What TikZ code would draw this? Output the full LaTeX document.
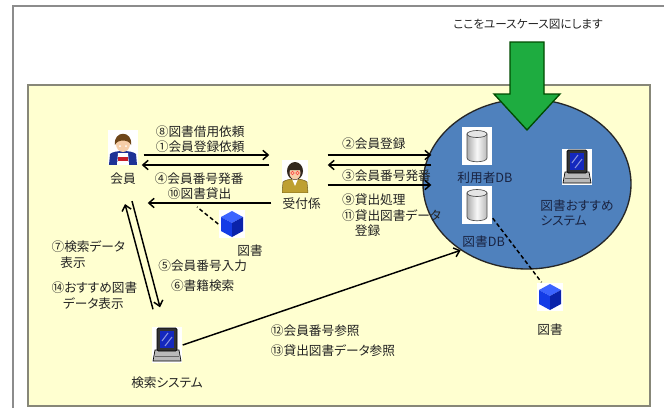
\documentclass[tikz,border=0pt]{standalone}
\usepackage{fontspec}
\setmainfont{Noto Sans CJK JP}[RawFeature=+palt]
\usepackage{tikz}
\usetikzlibrary{arrows.meta, shapes.geometric, positioning}

\definecolor{panel}{RGB}{255,255,208}
\definecolor{panelline}{RGB}{135,135,120}
\definecolor{framegray}{RGB}{140,140,140}
\definecolor{sysblue}{RGB}{79,129,189}
\definecolor{arrowgreen}{RGB}{30,172,64}
\definecolor{txt}{RGB}{35,35,35}
\definecolor{systxt}{RGB}{25,35,65}
\definecolor{skin}{RGB}{246,206,168}
\definecolor{hair}{RGB}{110,70,25}
\definecolor{hairdark}{RGB}{50,40,30}
\definecolor{shirt}{RGB}{30,50,150}
\definecolor{tie}{RGB}{200,30,40}
\definecolor{jacket}{RGB}{190,160,50}
\definecolor{cubetop}{RGB}{60,100,255}
\definecolor{cubeleft}{RGB}{20,60,230}
\definecolor{cuberight}{RGB}{10,35,170}
\definecolor{screen}{RGB}{20,40,190}

\begin{document}
\begin{tikzpicture}[
            x = 0.75pt, y = -0.75pt, % one unit per pixel, y grows downwards
            > = {Straight Barb[length=4pt, width=7pt]}, % open arrow head
            line width = 1.1pt, % line style
            font = \fontsize{9.5}{11.25}\selectfont,
            text = txt
        ]

        \tikzstyle{lbl}=[inner sep = 1pt]
        \tikzstyle{link}=[dash pattern = on 3pt off 2pt]
        \tikzstyle{icon}=[inner sep = 0pt, fill = white]

        \tikzstyle{boy}=[icon, minimum width = 22.5pt, minimum height = 26pt, path picture = {
            \begin{scope}[shift = {(path picture bounding box.center)}]
                \fill[shirt] (-14,18) -- (-13,7) .. controls (-9,3) and (9,3) .. (13,7) -- (14,18) -- cycle;
                \fill[white] (-6,18) -- (-5,6) -- (5,6) -- (6,18) -- cycle;
                \fill[tie] (-5,10) rectangle (5,14);
                \fill[skin] (0,-3) ellipse (7 and 8);
                \fill[hair] (-8,-2) .. controls (-10,-17) and (10,-17) .. (8,-2) .. controls (6,-8) and (-6,-8) .. (-8,-2) -- cycle;
                \fill (-3,-1) circle (1) (3,-1) circle (1);
            \end{scope}}]

        \tikzstyle{clerk}=[icon, minimum width = 19.5pt, minimum height = 24pt, path picture = {
            \begin{scope}[shift = {(path picture bounding box.center)}, line width = 0.4pt]
                \filldraw[fill = jacket, draw = jacket!60!black] (-13,17) -- (-12,6) .. controls (-8,2) and (8,2) .. (12,6) -- (13,17) -- cycle;
                \fill[white] (-3,3) -- (3,3) -- (0,10) -- cycle;
                \fill[hairdark] (0,-5) ellipse (8 and 9);
                \fill[skin] (0,-3) ellipse (5.5 and 6.5);
                \fill[hairdark] (-6,-6) .. controls (-4,-12) and (4,-12) .. (6,-6) -- cycle;
                \draw[red!75] (-2.5,-3) circle (1.8) (2.5,-3) circle (1.8);
            \end{scope}}]

        \tikzstyle{cube}=[icon, minimum width = 19.5pt, minimum height = 21pt, path picture = {
            \begin{scope}[shift = {(path picture bounding box.center)}]
                \fill[cubetop] (0,-13) -- (11,-7) -- (0,-1) -- (-11,-7) -- cycle;
                \fill[cubeleft] (-11,-7) -- (0,-1) -- (0,13) -- (-11,7) -- cycle;
                \fill[cuberight] (0,-1) -- (11,-7) -- (11,7) -- (0,13) -- cycle;
            \end{scope}}]

        \tikzstyle{dbcyl}=[icon, minimum width = 22.5pt, minimum height = 28.5pt, path picture = {
            \begin{scope}[shift = {(path picture bounding box.center)}, line width = 0.5pt]
                \shadedraw[left color = gray!65, right color = gray!55, middle color = gray!5, draw = black!70]
                    (-10,-12) -- (-10,12) .. controls (-10,17) and (10,17) .. (10,12) -- (10,-12) -- cycle;
                \filldraw[fill = gray!20, draw = black!70] (0,-12) ellipse (10 and 3.5);
            \end{scope}}]

        \tikzstyle{pc}=[icon, minimum width = 22.5pt, minimum height = 27pt, path picture = {
            \begin{scope}[shift = {(path picture bounding box.center)}, line width = 0.5pt]
                \filldraw[fill = gray!55, draw = black] (-12,5) -- (12,5) -- (14,16) -- (-14,16) -- cycle;
                \draw[black!60] (-12,11) -- (12,11);
                \filldraw[fill = black!80, draw = black, rounded corners = 1pt] (-10,-17) rectangle (10,6);
                \fill[screen] (-7,-14) rectangle (7,3);
                \draw[white!50!screen, line width = 0.8pt] (-5,-4) -- (1,-12) (-2,1) -- (5,-8);
            \end{scope}}]

        \useasboundingbox (0,0) rectangle (664,408);

        % frame and panel
        \draw[framegray, line width = 1.1pt] (13,408) -- (13,6) -- (664,6);
        \filldraw[fill = panel, draw = panelline, line width = 1pt] (28,85) rectangle (650,406);

        % system boundary
        \node[ellipse, draw = black!85, fill = sysblue, line width = 1pt, minimum width = 156pt, minimum height = 127.5pt, inner sep = 0pt] (sys) at (527,184) {};

        \node[font = \fontsize{8.7}{10}\selectfont] (title) at (528,24) {ここをユースケース図にします};
        \filldraw[fill = arrowgreen, draw = black!70!green, line width = 1pt] (510,42) -- (544,42) -- (544,94) -- (560,94) -- (527,130) -- (494,94) -- (510,94) -- cycle;

        % actors and objects
        \node[boy] (kaiin) at (123,147) {};
        \node[lbl] (kaiinL) [below = 4.5pt of kaiin] {会員};

        \node[clerk] (uke) at (295,176) {};
        \node[lbl] (ukeL) [below = 2.5pt of uke, xshift = 5pt] {受付係};

        \node[cube] (book1) at (232,224) {};
        \node[lbl] (book1L) [below = 3.3pt of book1, xshift = 13.5pt] {図書};

        \node[pc] (kensaku) at (167,345) {};
        \node[lbl] (kensakuL) [below = 8.5pt of kensaku] {検索システム};

        \node[dbcyl] (userdb) at (477,146) {};
        \node[lbl, text = systxt] (userdbL) [below = 3pt of userdb, xshift = 6pt] {利用者DB};

        \node[dbcyl] (bookdb) at (477,205) {};
        \node[lbl, text = systxt] (bookdbL) [below = 7pt of bookdb, xshift = 5pt] {図書DB};

        \node[pc] (reco) at (577,167) {};
        \node[lbl, text = systxt, align = left] (recoL) [below = 9pt of reco] {図書おすすめ\\システム};

        \node[cube] (book2) at (550,297) {};
        \node[lbl] (book2L) [below = 7.8pt of book2] {図書};

        % kaiin - uketsuke paths
        \path[->] ([shift = {(5,8)}]kaiin.east) edge node[lbl, above, pos = 0.45, align = center] {⑧図書借用依頼\\①会員登録依頼} ([shift = {(-12,-21)}]uke.west);
        \path[->] ([shift = {(-12,-11)}]uke.west) edge node[lbl, below = 4pt, pos = 0.55] {④会員番号発番} ([shift = {(3,18)}]kaiin.east);
        \path[->] ([shift = {(-10,27)}]uke.west) edge node[lbl, above = 1pt, pos = 0.58] {⑩図書貸出} ([shift = {(9,56)}]kaiin.east);

        % uketsuke - system paths
        \path[->] ([shift = {(19,-21)}]uke.east) edge node[lbl, anchor = south west, pos = 0.12, yshift = 2.5pt] {②会員登録} ([shift = {(9,-29)}]sys.west);
        \path[->] ([shift = {(9,-19)}]sys.west) edge node[lbl, anchor = north west, pos = 0.88, yshift = -1.8pt] {③会員番号発番} ([shift = {(19,-11)}]uke.east);
        \path[->] ([shift = {(19,9)}]uke.east) edge node[lbl, anchor = north west, pos = 0.12, yshift = -4.8pt, align = left] {⑨貸出処理\\[1pt]⑪貸出図書データ\\　登録} ([shift = {(9,1)}]sys.west);

        % kaiin - kensaku paths
        \path[->] ([shift = {(-14,-17)}]kensaku.north) edge node[lbl, left = 3.5pt, pos = 0.32, align = left, font = \fontsize{9.5}{12}\selectfont] {⑦検索データ\\\hspace{0.7em}表示\\[6.75pt]⑭おすすめ図書\\\hspace{0.9em}データ表示} ([shift = {(2,39)}]kaiin.south);
        \path[->] ([shift = {(9,36)}]kaiin.south) edge node[lbl, right = 3.5pt, pos = 0.7, align = center] {⑤会員番号入力\\[3.75pt]⑥書籍検索} ([shift = {(-7,-19)}]kensaku.north);

        % kensaku - system path
        \path[->] (kensaku.east) edge node[lbl, anchor = north west, pos = 0.31, yshift = -5pt, align = left] {⑫会員番号参照\\[3.75pt]⑬貸出図書データ参照} (sys.225);

        % books handed over
        \coordinate (lend) at (197,207);
        \draw[link] (book1.west) -- (lend);
        \draw[link] (bookdb.-40) -- (book2.120);

    \end{tikzpicture}
\end{document}
